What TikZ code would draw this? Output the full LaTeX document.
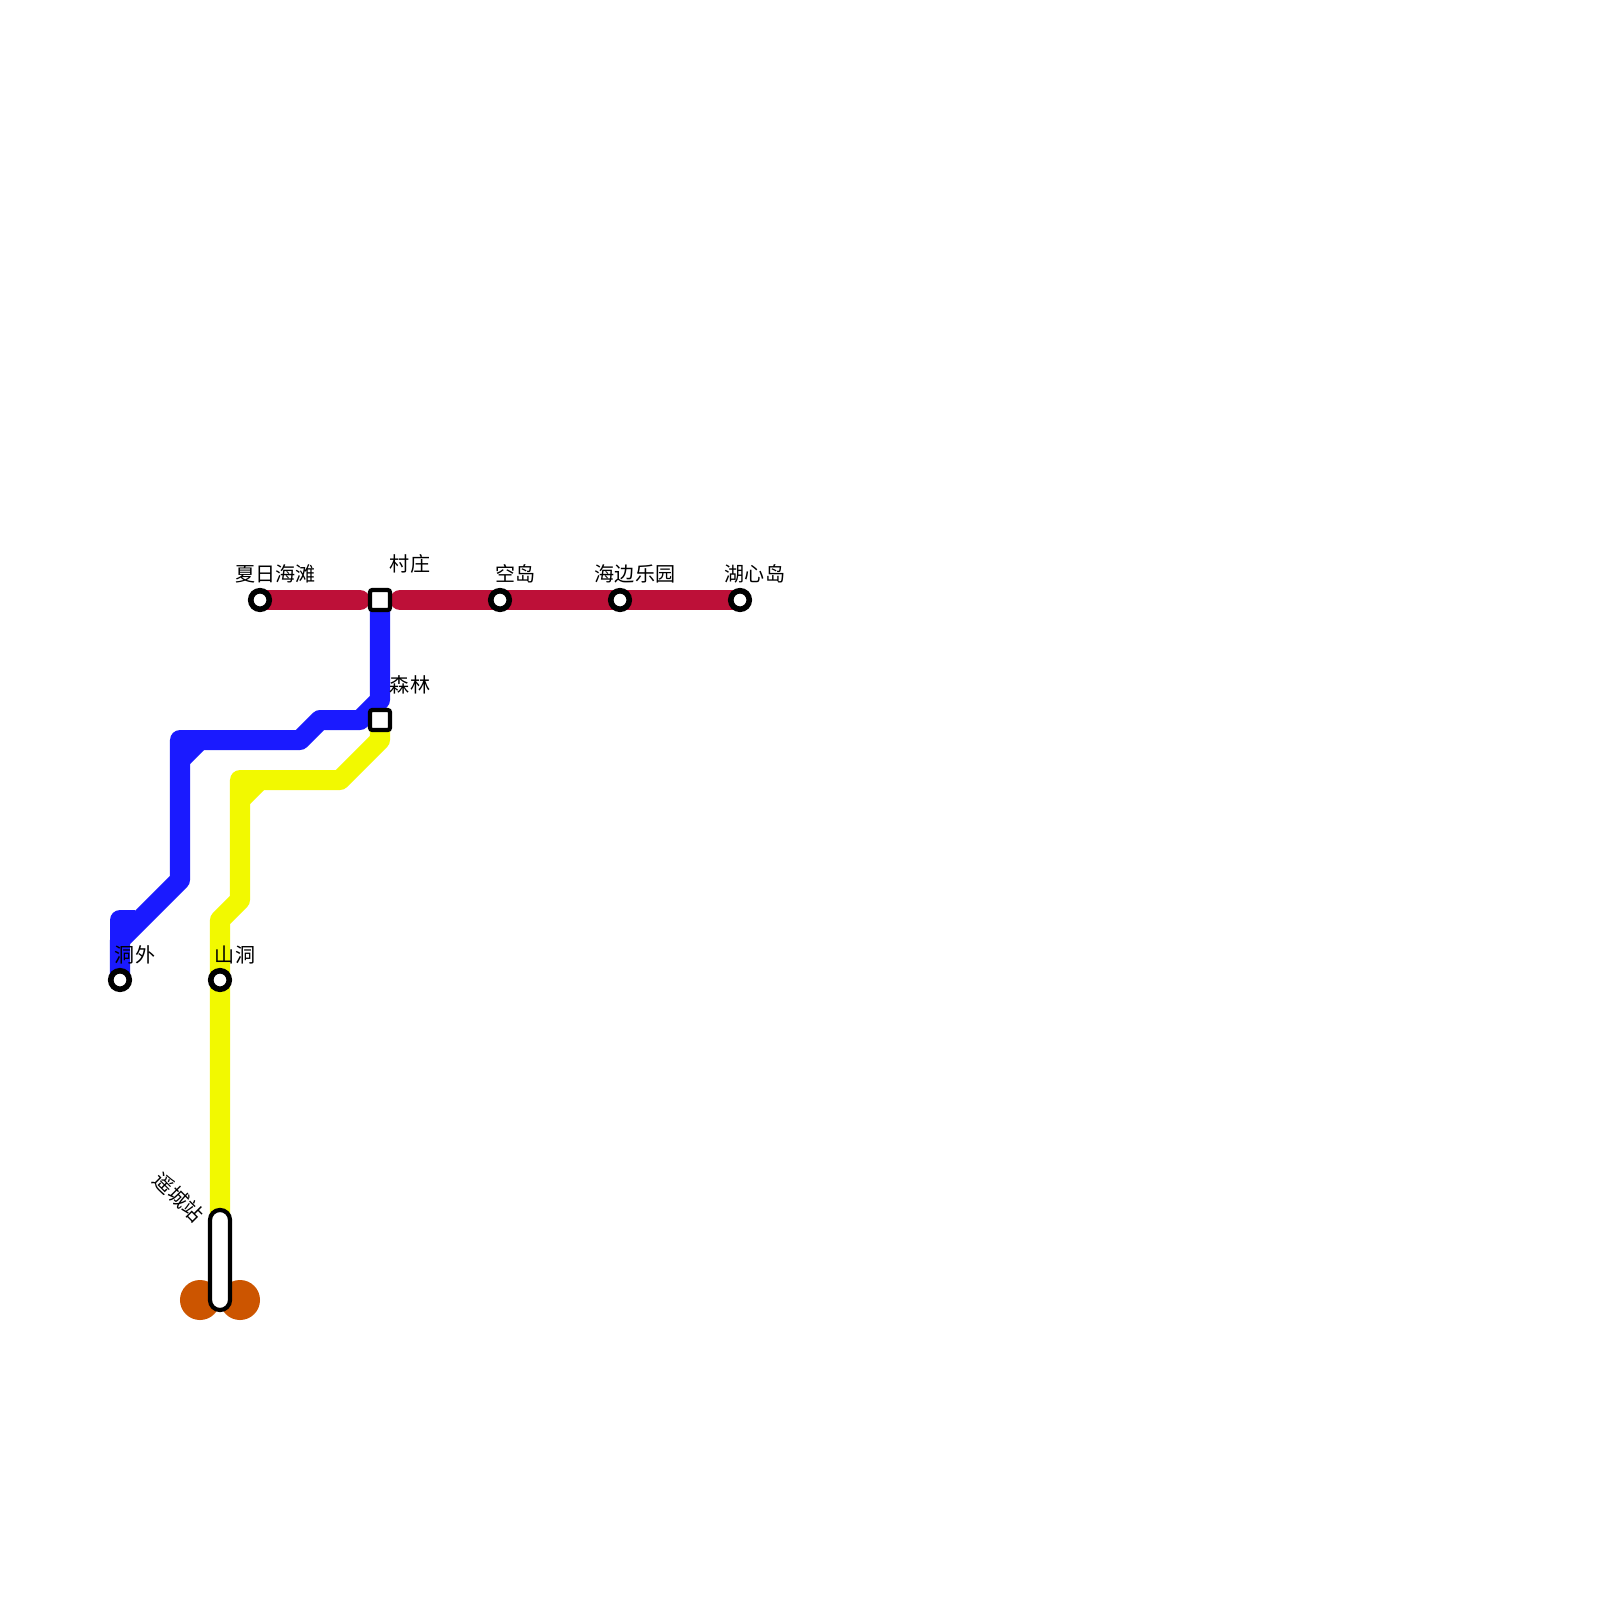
\documentclass[tikz,border=0pt]{standalone}
\usepackage{fontspec}
\setmainfont{Noto Sans CJK SC}
\definecolor{rline}{HTML}{BD1038}
\definecolor{bline}{HTML}{1A1AFF}
\definecolor{yline}{HTML}{F2F900}
\definecolor{oline}{HTML}{CC5500}
\tikzset{
  track/.style={line width=0.2cm,line join=round},
  rtrack/.style={track,draw=rline,line cap=round},
  btrack/.style={track,draw=bline},
  ytrack/.style={track,draw=yline},
  intstop/.style={circle,draw=black,fill=white,line width=0.056cm,minimum size=0.185cm,inner sep=0pt,outer sep=0pt},
  intchange/.style={rectangle,draw=black,fill=white,line width=0.042cm,rounded corners=0.02cm,minimum size=0.198cm,inner sep=0pt,outer sep=0pt},
  terminus/.style={rectangle,draw=black,fill=white,line width=0.042cm,rounded corners=0.1cm,minimum width=0.2cm,minimum height=1cm,inner sep=0pt,outer sep=0pt},
  blob/.style={circle,fill=oline,minimum size=0.4cm,inner sep=0pt,outer sep=0pt},
  lbl/.style={font=\fontsize{5.7pt}{6.5pt}\selectfont,text=black,inner sep=0pt}
}
\begin{document}
\begin{tikzpicture}[x=0.01cm,y=-0.01cm]
\useasboundingbox (0,0) rectangle (1600,1600);
\fill[white] (0,0) rectangle (1600,1600);
% way points
\coordinate (r1) at (360,600);
\coordinate (r2) at (400,600);
\coordinate (b1) at (380,700);
\coordinate (b2) at (360,720);
\coordinate (b3) at (320,720);
\coordinate (b4) at (300,740);
\coordinate (b5) at (180,740);
\coordinate (b6) at (180,880);
\coordinate (b7) at (120,940);
\coordinate (b8) at (120,920);
\coordinate (b9) at (135,920);
\coordinate (b10) at (180,760);
\coordinate (b11) at (200,740);
\coordinate (y1) at (380,740);
\coordinate (y2) at (340,780);
\coordinate (y3) at (240,780);
\coordinate (y4) at (240,900);
\coordinate (y5) at (220,920);
\coordinate (y6) at (240,800);
\coordinate (y7) at (260,780);
% terminus discs
\node[blob] (o1) at (200,1300) {};
\node[blob] (o2) at (240,1300) {};
% station positions
\coordinate (sA) at (260,600);
\coordinate (sB) at (380,600);
\coordinate (sC) at (500,600);
\coordinate (sD) at (620,600);
\coordinate (sE) at (740,600);
\coordinate (sF) at (380,720);
\coordinate (sG) at (120,980);
\coordinate (sH) at (220,980);
\coordinate (sI) at (220,1260);
% yellow
\draw[ytrack] (sF) -- (y1) -- (y2) -- (y3) -- (y4) -- (y5) -- (sI);
\draw[ytrack] (y6) -- (y7);
% blue
\draw[btrack] (sB) -- (b1) -- (b2) -- (b3) -- (b4) -- (b5) -- (b6) -- (b7) -- (sG);
\draw[btrack] (b10) -- (b11);
\draw[btrack] (b7) -- (b8) -- (b9);
% red
\draw[rtrack] (sA) -- (r1);
\draw[rtrack] (r2) -- (sE);
% stations
\node[intstop] (nA) at (sA) {};
\node[intchange] (nB) at (sB) {};
\node[intstop] (nC) at (sC) {};
\node[intstop] (nD) at (sD) {};
\node[intstop] (nE) at (sE) {};
\node[intchange] (nF) at (sF) {};
\node[intstop] (nG) at (sG) {};
\node[intstop] (nH) at (sH) {};
\node[terminus] (nI) at (sI) {};
% labels
\node[lbl] (tA) at (275.5,574) {夏日海滩};
\node[lbl] (tB) at (410,564) {村庄};
\node[lbl] (tC) at (515.5,574) {空岛};
\node[lbl] (tD) at (635,574) {海边乐园};
\node[lbl] (tE) at (755,574) {湖心岛};
\node[lbl] (tF) at (410,685) {森林};
\node[lbl] (tG) at (135,954.5) {洞外};
\node[lbl] (tH) at (235,954.5) {山洞};
\node[lbl,rotate=-45] (tI) at (178.5,1197.5) {遥城站};
\end{tikzpicture}
\end{document}
